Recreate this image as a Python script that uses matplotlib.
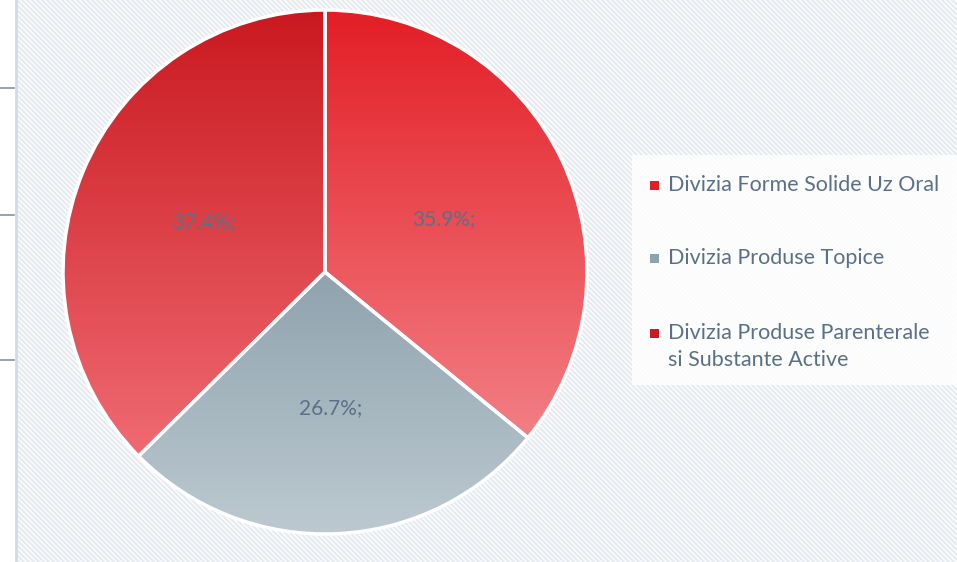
import numpy as np
import matplotlib
matplotlib.use("Agg")
import matplotlib.pyplot as plt
from matplotlib.colors import LinearSegmentedColormap
from matplotlib.patches import Rectangle

labels = ["Divizia Forme Solide Uz Oral", "Divizia Produse Topice",
          "Divizia Produse Parenterale\nsi Substante Active"]
values = [35.9, 26.7, 37.4]
pct_labels = ["35.9%;", "26.7%;", "37.4%;"]
top_colors = ["#E31E26", "#8FA3AE", "#C9191F"]
bottom_colors = ["#F27F84", "#BCC9D0", "#F06A72"]

W, H = 957, 562
fig = plt.figure(figsize=(W / 100, H / 100), dpi=100)
fig.patch.set_facecolor("white")

# background with diagonal hatch
bg = fig.add_axes([0, 0, 1, 1])
bg.set_xlim(0, W)
bg.set_ylim(H, 0)
bg.axis("off")
for c in np.arange(-W, H + W, 5.0):
    bg.plot([15, W], [15 + c, W + c], color="#E6EBF0", lw=1.6, solid_capstyle="butt")
bg.add_patch(Rectangle((0, 0), 15, H, facecolor="white", edgecolor="none", zorder=2))
bg.plot([15.5, 15.5], [0, H], color="#D3DCE4", lw=2, zorder=3)
for ty in [88, 215, 360]:
    bg.plot([0, 14], [ty, ty], color="#7F95A6", lw=1.2, zorder=3)

# legend box
bg.add_patch(Rectangle((632, 155), W - 632, 230, facecolor="white", alpha=0.85,
                       edgecolor="none", zorder=4))

font = "Lato"
text_color = "#5B7088"

# pie
cx, cy, r = 325, 272, 262
ax = fig.add_axes([(cx - r) / W, (H - cy - r) / H, 2 * r / W, 2 * r / H])
wedges, _ = ax.pie(values, startangle=90, counterclock=False, radius=1,
                   wedgeprops=dict(edgecolor="white", linewidth=2.5))
ax.set_xlim(-1, 1)
ax.set_ylim(-1, 1)
ax.set_aspect("equal")
ax.axis("off")

grad = np.linspace(0, 1, 256).reshape(-1, 1)
for w, tc, bc in zip(wedges, top_colors, bottom_colors):
    w.set_facecolor("none")
    ext = w.get_path().get_extents()
    cmap = LinearSegmentedColormap.from_list("g", [tc, bc])
    im = ax.imshow(grad, extent=(-1, 1, ext.y0, ext.y1), origin="upper", cmap=cmap,
                   aspect="auto", zorder=1)
    im.set_clip_path(w)
    w.set_zorder(2)
ax.set_xlim(-1, 1)
ax.set_ylim(-1, 1)

# percentage labels
for (lx, ly), t in zip([(444, 219), (331, 408), (204, 222)], pct_labels):
    ax.text(lx, ly, t, ha="center", va="center", fontsize=15, transform=bg.transData,
            color=text_color, family=font, zorder=10)

# legend entries
for (ly, lab), col in zip([(185, labels[0]), (258, labels[1]), (333, labels[2])],
                          top_colors):
    bg.add_patch(Rectangle((650, ly - 4.5), 9, 9, facecolor=col, edgecolor="none", zorder=5))
    bg.text(668, ly - 10, lab, ha="left", va="top", fontsize=15.5, color=text_color,
            family=font, zorder=5, linespacing=1.45)

fig.savefig("out.png", dpi=100)
